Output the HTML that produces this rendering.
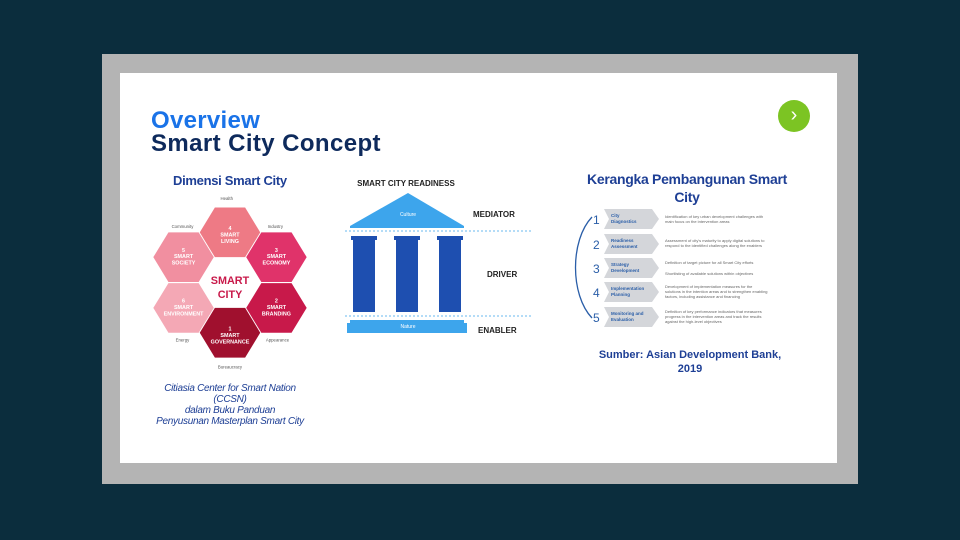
<!DOCTYPE html>
<html><head><meta charset="utf-8"><style>
body{margin:0;width:960px;height:540px;background:#0b2d3d;position:relative;overflow:hidden;font-family:"Liberation Sans",sans-serif}
.a{position:absolute}
</style></head><body>
<div class="a" style="left:102px;top:54px;width:756px;height:430px;background:#b4b4b4"></div>
<div class="a" style="left:120px;top:73px;width:717px;height:390px;background:#fff"></div>
<div class="a" style="left:151px;top:107px;font-size:24px;font-weight:bold;color:#1a73e8;letter-spacing:0.3px">Overview</div>
<div class="a" style="left:151px;top:130px;font-size:24px;font-weight:bold;color:#0e2a5c;letter-spacing:0.4px">Smart City Concept</div>
<div class="a" style="left:778px;top:100px;width:32px;height:32px;border-radius:50%;background:#7cc423;color:#fff;font-size:20px;text-align:center;line-height:30px">›</div>
<div class="a" style="left:173px;top:173px;font-size:13px;font-weight:bold;color:#1e3f95;letter-spacing:-0.3px">Dimensi Smart City</div>
<svg class="a" style="left:0;top:0" width="960" height="540" font-family="Liberation Sans">
<g transform="translate(230,282) scale(1.08) translate(-230,-283)">
<g font-size="5" fill="#fff" text-anchor="middle" font-weight="bold">
<polygon points="215,237 244,237 259,260 244,283 215,283 201,260" fill="#ffffff"/>
<polygon points="216,214 244,214 258,237 244,260 216,260 202,237" fill="#ee7a85"/><text x="230" y="235">4</text><text x="230" y="241">SMART</text><text x="230" y="247">LIVING</text>
<polygon points="259,237 287,237 301,260 287,283 259,283 245,260" fill="#e0336a"/><text x="273" y="255">3</text><text x="273" y="261">SMART</text><text x="273" y="267">ECONOMY</text>
<polygon points="259,284 287,284 301,307 287,330 259,330 245,307" fill="#c8194a"/><text x="273" y="302">2</text><text x="273" y="308">SMART</text><text x="273" y="314">BRANDING</text>
<polygon points="216,307 244,307 258,330 244,353 216,353 202,330" fill="#a0102e"/><text x="230" y="328">1</text><text x="230" y="334">SMART</text><text x="230" y="340">GOVERNANCE</text>
<polygon points="173,284 201,284 215,307 201,330 173,330 159,307" fill="#f4a8b5"/><text x="187" y="302">6</text><text x="187" y="308">SMART</text><text x="187" y="314">ENVIRONMENT</text>
<polygon points="173,237 201,237 215,260 201,283 173,283 159,260" fill="#f18fa0"/><text x="187" y="255">5</text><text x="187" y="261">SMART</text><text x="187" y="267">SOCIETY</text>
</g>
<text x="230" y="285" font-size="10" font-weight="bold" fill="#c8194a" text-anchor="middle">SMART</text>
<text x="230" y="298" font-size="10" font-weight="bold" fill="#c8194a" text-anchor="middle">CITY</text>
<g font-size="4" fill="#555" text-anchor="middle"><text x="227" y="207">Health</text><text x="186" y="233">Community</text><text x="272" y="233">Industry</text><text x="186" y="338">Energy</text><text x="274" y="338">Appearance</text><text x="230" y="363">Bureaucracy</text></g>
</g>
<text x="406" y="186" font-size="8" font-weight="bold" fill="#222" text-anchor="middle">SMART CITY READINESS</text>
<polygon points="408,193 464,226 350,226" fill="#3da5ec"/>
<rect x="350" y="226" width="114" height="2" fill="#3da5ec"/>
<text x="408" y="216" font-size="5" fill="#fff" text-anchor="middle">Culture</text>
<line x1="345" y1="231" x2="532" y2="231" stroke="#6ab8ef" stroke-dasharray="2,2"/>
<line x1="345" y1="316" x2="532" y2="316" stroke="#6ab8ef" stroke-dasharray="2,2"/>
<rect x="351" y="236" width="26" height="4" fill="#1e4fb0"/><rect x="353" y="236" width="22" height="76" fill="#1e4fb0"/>
<rect x="394" y="236" width="26" height="4" fill="#1e4fb0"/><rect x="396" y="236" width="22" height="76" fill="#1e4fb0"/>
<rect x="437" y="236" width="26" height="4" fill="#1e4fb0"/><rect x="439" y="236" width="22" height="76" fill="#1e4fb0"/>
<rect x="350" y="320" width="114" height="4" fill="#3da5ec"/><rect x="347" y="323" width="120" height="10" fill="#3da5ec"/>
<text x="408" y="328" font-size="5" fill="#fff" text-anchor="middle">Nature</text>
<g font-size="8" font-weight="bold" fill="#222"><text x="473" y="217">MEDIATOR</text><text x="487" y="277">DRIVER</text><text x="478" y="333">ENABLER</text></g>
<path d="M592,217 C570,240 570,295 592,318" fill="none" stroke="#2a5ea8" stroke-width="1.3"/>
<g font-size="12" fill="#2a5ea8"><text x="593" y="224">1</text><text x="593" y="249">2</text><text x="593" y="273">3</text><text x="593" y="297">4</text><text x="593" y="322">5</text></g>
<g fill="#d4d6da">
<polygon points="604,209 652,209 659,219 652,229 604,229 609,219"/>
<polygon points="604,234 652,234 659,244 652,254 604,254 609,244"/>
<polygon points="604,258 652,258 659,268 652,278 604,278 609,268"/>
<polygon points="604,282 652,282 659,292 652,302 604,302 609,292"/>
<polygon points="604,307 652,307 659,317 652,327 604,327 609,317"/>
</g>
<g font-size="4.5" fill="#2a5ea8" font-weight="bold"><text x="611" y="217">City</text><text x="611" y="223">Diagnostics</text><text x="611" y="242">Readiness</text><text x="611" y="248">Assessment</text><text x="611" y="266">Strategy</text><text x="611" y="272">Development</text><text x="611" y="290">Implementation</text><text x="611" y="296">Planning</text><text x="611" y="315">Monitoring and</text><text x="611" y="321">Evaluation</text></g>
<g font-size="4" fill="#666"><text x="665" y="218">Identification of key urban development challenges with</text><text x="665" y="223">main focus on the intervention areas</text>
<text x="665" y="242">Assessment of city's maturity to apply digital solutions to</text><text x="665" y="247">respond to the identified challenges along the enablers</text>
<text x="665" y="264">Definition of target picture for all Smart City efforts</text><text x="665" y="275">Shortlisting of available solutions within objectives</text>
<text x="665" y="288">Development of implementation measures for the</text><text x="665" y="293">solutions in the intention areas and to strengthen enabling</text><text x="665" y="298">factors, including assistance and financing</text>
<text x="665" y="313">Definition of key performance indicators that measures</text><text x="665" y="318">progress in the intervention areas and track the results</text><text x="665" y="323">against the high-level objectives</text></g>
</svg>
<div class="a" style="left:582px;top:170px;width:210px;text-align:center;font-size:14px;font-weight:bold;color:#1e3f95;line-height:18px;letter-spacing:-0.3px">Kerangka Pembangunan Smart City</div>
<div class="a" style="left:590px;top:348px;width:200px;text-align:center;font-size:11px;font-weight:bold;color:#1e3f95;line-height:14px">Sumber: Asian Development Bank, 2019</div>
<div class="a" style="left:135px;top:383px;width:190px;text-align:center;font-size:10px;font-style:italic;color:#1e3f95;line-height:11px;letter-spacing:-0.3px">Citiasia Center for Smart Nation<br>(CCSN)<br>dalam Buku Panduan<br>Penyusunan Masterplan Smart City</div>
</body></html>
